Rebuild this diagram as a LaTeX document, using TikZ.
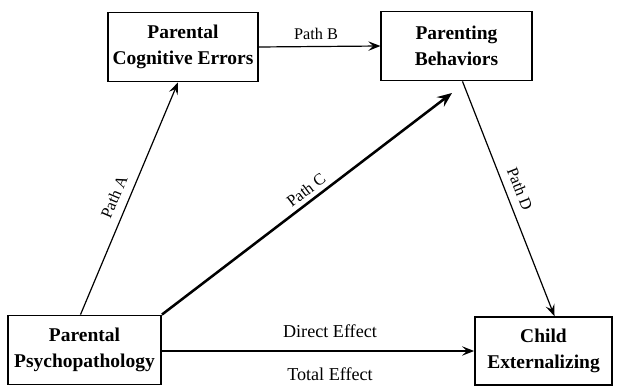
\documentclass[tikz,border=0pt]{standalone}
\usepackage{fontspec}
\setmainfont{Liberation Serif}
\usetikzlibrary{arrows.meta,calc}

\tikzset{
  varbox/.style={draw, line width=1.1pt, align=center, minimum height=52pt,
    font=\bfseries\fontsize{14.6}{20}\selectfont},
  pathlbl/.style={font=\fontsize{12.2}{14}\selectfont},
  efflbl/.style={font=\fontsize{13.6}{16}\selectfont},
  conn/.style={line width=0.9pt, -{Stealth[length=9pt,width=7pt,inset=3.5pt]}},
  thickconn/.style={line width=1.9pt, -{Stealth[length=11pt,width=9pt,inset=4pt]}}
}

\begin{document}
\begin{tikzpicture}[x=0.75pt,y=0.75pt,yscale=-1]
\useasboundingbox (0,0) rectangle (622,388);

% Boxes
\node[varbox, minimum width=112.5pt] (ce) at (183,47) {Parental\\Cognitive Errors};
\node[varbox, minimum width=113pt] (pb) at (456.5,46) {Parenting\\Behaviors};
\node[varbox, minimum width=115pt] (pp) at (84.5,350) {Parental\\Psychopathology};
\node[varbox, minimum width=103pt, minimum height=51pt] (cx) at (543.5,351) {Child\\Externalizing};

% end of path C
\coordinate (ctip) at (452,93);

% Paths
\draw[conn] ($(pp.north)+(-4,0)$) -- ($(ce.south)+(-5,0)$);
\draw[conn] (ce.east) -- (pb.west);
\draw[thickconn] (pp.north east) -- (ctip);
\draw[conn] ($(pb.south)+(6,0)$) -- ($(cx.north)+(11,0)$);
\draw[conn] (pp.east |- cx.west) -- (cx.west);

% Labels
\node[pathlbl, rotate=67] (la) at (114,197) {Path A};
\node[pathlbl] (lb) at (316,34) {Path B};
\node[pathlbl, rotate=37.3] (lc) at (306,190) {Path C};
\node[pathlbl, rotate=-68.5] (ld) at (520,189) {Path D};
\node[efflbl] (lde) at (330,331) {Direct Effect};
\node[efflbl] (lte) at (330,374) {Total Effect};

\end{tikzpicture}
\end{document}
